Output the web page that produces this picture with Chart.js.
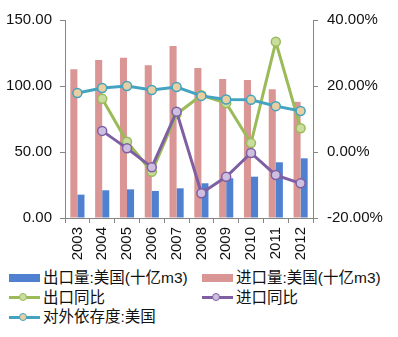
<!DOCTYPE html>
<html>
<head>
<meta charset="utf-8">
<script src="https://cdn.jsdelivr.net/npm/chart.js@4"></script>
<style>
  html, body { margin: 0; padding: 0; background: #fff; }
  #wrap { position: relative; width: 398px; height: 337px; }
  #box { position: absolute; left: 0; top: 0; width: 398px; height: 265px; }
  #legend { position: absolute; left: 0; top: 268px; width: 398px;
    font: 15.5px "Liberation Sans", "Noto Sans CJK SC", sans-serif; color: #111; }
  .item { position: absolute; height: 20px; line-height: 20px; white-space: nowrap; }
  .sym { position: absolute; left: 0; top: 0; width: 31px; height: 20px; }
  .txt { position: absolute; left: 34px; top: 0; }
</style>
</head>
<body>
<div id="wrap">
  <div id="box"><canvas id="chart"></canvas></div>
  <div id="legend"></div>
</div>
<script>
// --- DATOS ---
const YEARS = ['2003', '2004', '2005', '2006', '2007', '2008', '2009', '2010', '2011', '2012'];
const EXPORT_VOL = [17.7, 21.0, 21.7, 20.5, 22.5, 26.3, 30.1, 31.3, 42.2, 45.2];
const IMPORT_VOL = [112.6, 119.7, 121.4, 115.7, 130.3, 113.6, 105.3, 104.5, 97.5, 88.0];
const EXPORT_YOY = [null, 16.1, 3.1, -6.0, 11.5, 17.2, 14.8, 2.7, 33.4, 7.2];
const IMPORT_YOY = [null, 6.4, 1.1, -4.6, 12.2, -12.5, -7.5, -0.3, -7.0, -9.5];
const DEPENDENCY = [17.9, 19.4, 20.0, 18.8, 19.7, 17.0, 15.9, 15.8, 13.9, 12.4];

const FONT = '"Liberation Sans", "Noto Sans CJK SC", sans-serif';
const AXIS_GREY = '#868686';

const lineSet = (label, data, color, fill, order) => ({
    type: 'line',
    label: label,
    data: data,
    yAxisID: 'yR',
    borderColor: color,
    borderWidth: 3,
    pointRadius: 4.5,
    pointBorderWidth: 1.5,
    pointBackgroundColor: fill,
    pointBorderColor: color,
    tension: 0,
    spanGaps: false,
    order: order
});

const datasets = [
    { type: 'bar', label: '出口量:美国(十亿m3)', data: EXPORT_VOL, yAxisID: 'yL',
      backgroundColor: '#4f81d0', barPercentage: 1, categoryPercentage: 0.57, order: 5 },
    { type: 'bar', label: '进口量:美国(十亿m3)', data: IMPORT_VOL, yAxisID: 'yL',
      backgroundColor: '#d99694', barPercentage: 1, categoryPercentage: 0.57, order: 4 },
    lineSet('出口同比', EXPORT_YOY, '#9bbb59', '#c9dd9f', 3),
    lineSet('进口同比', IMPORT_YOY, '#7f5fa3', '#cdbfe0', 2),
    lineSet('对外依存度:美国', DEPENDENCY, '#43a3c0', '#e8cfa2', 1)
];

const tickFont = { family: FONT, size: 15 };

const chart = new Chart(document.getElementById('chart'), {
    data: { labels: YEARS, datasets: datasets },
    options: {
        responsive: true,
        maintainAspectRatio: false,
        animation: false,
        layout: { padding: { top: 20, left: 0, right: 0, bottom: 0 } },
        plugins: { legend: { display: false }, tooltip: { enabled: false } },
        scales: {
            x: {
                grid: { drawOnChartArea: false, drawTicks: true, tickLength: 5, color: AXIS_GREY, offset: true },
                border: { color: AXIS_GREY },
                ticks: { font: tickFont, color: '#111', minRotation: 90, maxRotation: 90, padding: 4 },
                afterFit: (s) => { s.height = 47; }
            },
            yL: {
                position: 'left',
                min: 0, max: 150,
                grid: { drawOnChartArea: false, tickLength: 5, color: AXIS_GREY },
                border: { color: AXIS_GREY },
                ticks: { stepSize: 50, font: tickFont, color: '#111', padding: 8,
                         callback: (v) => v.toFixed(2) },
                afterFit: (s) => { s.width = 65; }
            },
            yR: {
                position: 'right',
                min: -20, max: 40,
                grid: { drawOnChartArea: false, tickLength: 5, color: AXIS_GREY },
                border: { color: AXIS_GREY },
                ticks: { stepSize: 20, font: tickFont, color: '#111', padding: 9,
                         callback: (v) => v.toFixed(2) + '%' },
                afterFit: (s) => { s.width = 85; }
            }
        }
    }
});

// --- LEYENDA (dos columnas) ---
const legendPos = [[9, 0], [202, 0], [9, 19.5], [202, 19.5], [9, 39]];
const legend = document.getElementById('legend');
chart.data.datasets.forEach((ds, i) => {
    const item = document.createElement('div');
    item.className = 'item';
    item.style.left = legendPos[i][0] + 'px';
    item.style.top = legendPos[i][1] + 'px';
    let sym;
    if (ds.type === 'bar') {
        sym = `<div class="sym"><div style="position:absolute;left:0;top:6px;width:31px;height:8px;background:${ds.backgroundColor}"></div></div>`;
    } else {
        sym = `<div class="sym"><div style="position:absolute;left:0;top:8.5px;width:31px;height:3px;background:${ds.borderColor}"></div>` +
              `<div style="position:absolute;left:10px;top:5.5px;width:6px;height:6px;border-radius:50%;border:1.5px solid ${ds.borderColor};background:${ds.pointBackgroundColor}"></div></div>`;
    }
    item.innerHTML = sym + `<span class="txt">${ds.label}</span>`;
    legend.appendChild(item);
});
</script>
</body>
</html>
